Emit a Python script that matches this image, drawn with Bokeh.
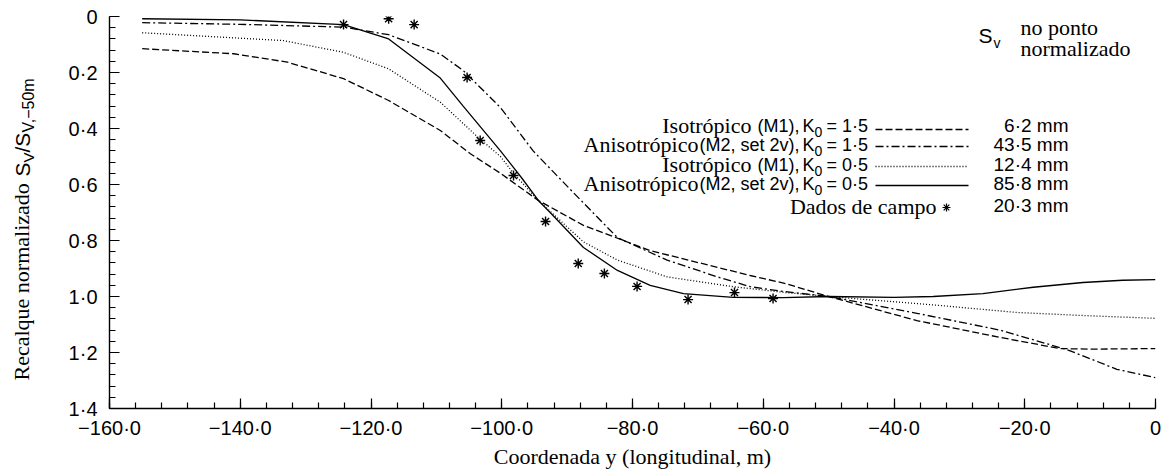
import math
from bokeh.plotting import figure
from bokeh.models import Range1d, FixedTicker, Label
from bokeh.layouts import row
from bokeh.core.properties import value
from bokeh.embed import file_html
from bokeh.resources import INLINE

# ---------------- data ----------------
iso15_x = [-155, -141, -132.8, -124.2, -117.3, -109.4, -104.8, -100.2, -94.4, -87.5, -77.3, -67, -62, -56.9, -50, -36.5, -23.8, -14.6, -10, 0]
iso15_y = [0.115, 0.133, 0.163, 0.222, 0.30, 0.407, 0.49, 0.56, 0.657, 0.746, 0.836, 0.896, 0.925, 0.952, 1.0, 1.086, 1.146, 1.186, 1.188, 1.186]

aniso15_x = [-155, -140, -124.2, -117.3, -109.4, -105.9, -100.2, -95.2, -89.0, -82.3, -74.7, -67, -62, -56.9, -50, -36.5, -23.8, -13.5, -5.9, 0]
aniso15_y = [0.022, 0.028, 0.038, 0.065, 0.134, 0.193, 0.325, 0.48, 0.63, 0.79, 0.87, 0.93, 0.965, 0.982, 1.0, 1.06, 1.12, 1.19, 1.26, 1.29]

iso05_x = [-155, -133.4, -124.2, -117.3, -109.4, -103.7, -100.2, -98.2, -94.4, -87.5, -82.3, -74.7, -64.6, -56.9, -50, -34, -21.2, -11.1, 0]
iso05_y = [0.058, 0.086, 0.128, 0.187, 0.306, 0.43, 0.50, 0.56, 0.657, 0.805, 0.87, 0.93, 0.965, 0.985, 1.0, 1.03, 1.057, 1.068, 1.078]

aniso05_x = [-155, -140, -124.2, -117.3, -109.4, -105.9, -100.2, -97, -94.4, -92.6, -87.5, -82.3, -77.3, -72.2, -64.6, -56.9, -50, -40, -34, -26.4, -18.7, -11.1, -5, 0]
aniso05_y = [0.008, 0.012, 0.029, 0.08, 0.22, 0.32, 0.48, 0.575, 0.657, 0.70, 0.825, 0.907, 0.96, 0.99, 1.003, 1.004, 1.0, 1.003, 1.0, 0.99, 0.967, 0.95, 0.942, 0.94]

field_x = [-124.2, -117.3, -113.4, -105.3, -103.3, -98.2, -93.3, -88.3, -84.3, -79.3, -71.5, -64.4, -58.5]
field_y = [0.029, 0.008, 0.029, 0.218, 0.443, 0.568, 0.732, 0.882, 0.918, 0.964, 1.011, 0.986, 1.007]

x_ticks = [-160, -140, -120, -100, -80, -60, -40, -20, 0]
x_tick_labels = ["\u2212160\u00b70", "\u2212140\u00b70", "\u2212120\u00b70", "\u2212100\u00b70", "\u221280\u00b70",
                 "\u221260\u00b70", "\u221240\u00b70", "\u221220\u00b70", "0"]
y_ticks = [0, 0.2, 0.4, 0.6, 0.8, 1.0, 1.2, 1.4]
y_tick_labels = ["0", "0\u00b72", "0\u00b74", "0\u00b76", "0\u00b78", "1\u00b70", "1\u00b72", "1\u00b74"]

legend_names = ["Isotrópico", "Anisotrópico", "Isotrópico", "Anisotrópico"]
legend_params = ["(M1),", "(M2, set 2v),", "(M1),", "(M2, set 2v),"]
legend_k0 = ["= 1\u00b75", "= 1\u00b75", "= 0\u00b75", "= 0\u00b75"]
legend_values = ["6\u00b72 mm", "43\u00b75 mm", "12\u00b74 mm", "85\u00b78 mm", "20\u00b73 mm"]

SERIF = "Liberation Serif"
SANS = "Liberation Sans"

# ---------------- layout geometry (page pixels; the Bokeh page template has no body margin) ----------------
TOTAL_W, TOTAL_H = 1168, 471
LWID = 44                      # narrow left panel holding the rotated y title
FL, FT = 109, 16
FW, FH = 1046, 392
FR = TOTAL_W - FL - FW         # 13
FB = TOTAL_H - FT - FH         # 63
PX0, PXS, PY0, PYS = FL, FW / 160.0, FT, FH / 1.4


def dx(px):
    return (px - PX0) / PXS - 160


def dy(py):
    return (py - PY0) / PYS


# ---------------- left panel: y axis title (same vertical frame as main) ----------------
lp = figure(width=LWID, height=TOTAL_H, min_border_left=0, min_border_right=0,
            min_border_top=FT, min_border_bottom=FB,
            x_range=Range1d(0, LWID), y_range=Range1d(1.4, 0),
            x_axis_type=None, y_axis_type=None,
            output_backend="svg", toolbar_location=None)
lp.grid.visible = False
lp.outline_line_color = None
lp.background_fill_color = "white"
lp.border_fill_color = "white"


def rtext(t, page_x, page_y, font, size):
    lp.text(x=[page_x], y=[dy(page_y)], text=[t], angle=math.pi / 2,
            text_align="left", text_baseline="middle", text_font=value(font),
            text_font_size=size, text_color="black")


rtext("Recalque normalizado", 21, 380, SERIF, "22px")
rtext("S", 22, 176, SANS, "21px")
rtext("V", 28, 162, SANS, "15px")
rtext("/S", 22, 152, SANS, "21px")
rtext("V,\u221250m", 28, 132, SANS, "16px")

# ---------------- main figure ----------------
p = figure(width=TOTAL_W - LWID, height=TOTAL_H,
           min_border_left=FL - LWID, min_border_top=FT, min_border_right=FR, min_border_bottom=FB,
           x_range=Range1d(-160, 0), y_range=Range1d(1.4, 0),
           output_backend="svg", toolbar_location=None)
p.outline_line_color = None
p.grid.visible = False
p.background_fill_color = "white"
p.border_fill_color = "white"

minor_x = [-160 + 4 * i for i in range(41)]
minor_y = [round(0.04 * i, 2) for i in range(36)]
p.xaxis.ticker = FixedTicker(ticks=x_ticks, minor_ticks=minor_x)
p.yaxis.ticker = FixedTicker(ticks=y_ticks, minor_ticks=minor_y)
p.xaxis.major_label_overrides = dict(zip(x_ticks, x_tick_labels))
p.yaxis.major_label_overrides = dict(zip(y_ticks, y_tick_labels))

for ax in (p.xaxis, p.yaxis):
    ax.axis_line_color = "black"
    ax.axis_line_width = 1.4
    ax.major_tick_line_color = "black"
    ax.minor_tick_line_color = "black"
    ax.major_tick_line_width = 1.2
    ax.minor_tick_line_width = 1.2
    ax.major_tick_in = 10
    ax.major_tick_out = 0
    ax.minor_tick_in = 6
    ax.minor_tick_out = 0
    ax.major_label_text_font = SANS
    ax.major_label_text_font_size = "20px"
    ax.major_label_text_color = "black"
    ax.major_label_text_line_height = 1.0
p.xaxis.major_label_standoff = 8
p.yaxis.major_label_standoff = 12
p.xaxis.axis_label = "Coordenada y (longitudinal, m)"
p.xaxis.axis_label_text_font = SERIF
p.xaxis.axis_label_text_font_size = "22px"
p.xaxis.axis_label_text_font_style = "normal"
p.xaxis.axis_label_text_color = "black"
p.xaxis.axis_label_text_line_height = 1.0
p.xaxis.axis_label_standoff = 2

# ---------------- series ----------------
LW = 1.3
DASH = ["7 3", "8 3 2 3", "1 2", "solid"]
p.line(iso15_x, iso15_y, line_color="black", line_width=LW, line_dash=DASH[0])
p.line(aniso15_x, aniso15_y, line_color="black", line_width=LW, line_dash=DASH[1])
p.line(iso05_x, iso05_y, line_color="black", line_width=LW, line_dash=DASH[2])
p.line(aniso05_x, aniso05_y, line_color="black", line_width=LW, line_dash=DASH[3])
p.scatter(field_x, field_y, marker="asterisk", size=10, line_color="black", line_width=1.4)


# ---------------- annotations (positions in reference page pixels) ----------------
def lab(text, px, py, font, size, align="left"):
    p.add_layout(Label(x=dx(px), y=dy(py), text=text, text_font=font, text_font_size=size,
                       text_align=align, text_baseline="middle", text_color="black"))


# top right note
lab("S", 978, 35, SANS, "21px")
lab("v", 993, 42, SANS, "14px")
lab("no ponto", 1020, 27, SERIF, "22px")
lab("normalizado", 1020, 48, SERIF, "22px")

# legend block
rows = [125, 144, 164, 183]
samples = [129, 146, 166, 185]
name_end = [751, 698, 751, 698]
for i in range(4):
    lab(legend_names[i], name_end[i], rows[i], SERIF, "22px", align="right")
    lab(legend_params[i], 799, rows[i], SANS, "18px", align="right")
    lab("K", 802, rows[i], SANS, "18px")
    lab("0", 814, rows[i] + 6, SANS, "14px")
    lab(legend_k0[i], 826, rows[i], SANS, "18px")
    lab(legend_values[i], 1068, rows[i], SANS, "19px", align="right")
    p.line([dx(875), dx(968)], [dy(samples[i]), dy(samples[i])], line_color="black",
           line_width=LW, line_dash=DASH[i])
lab("Dados de campo", 936, 206, SERIF, "22px", align="right")
p.scatter([dx(946)], [dy(207)], marker="asterisk", size=8, line_color="black", line_width=1.2)
lab(legend_values[4], 1068, 205, SANS, "19px", align="right")

layout = row(lp, p)
open("out.html", "w").write(file_html(layout, INLINE))
